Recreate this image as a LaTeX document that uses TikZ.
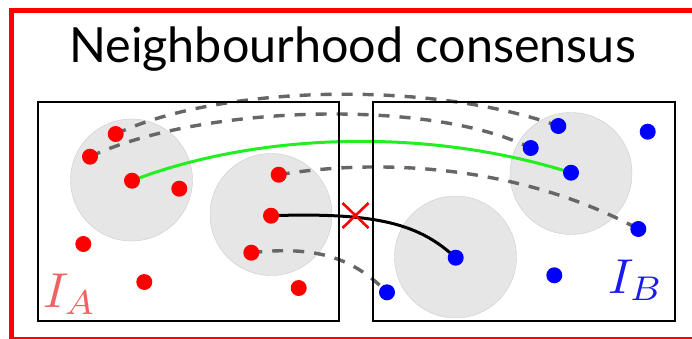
\documentclass[tikz,border=0pt]{standalone}
\usepackage{graphicx}
\usepackage{fontspec}
\setmainfont{Lato}
\usetikzlibrary{backgrounds}
\pgfdeclarelayer{disc}
\pgfdeclarelayer{links}
\pgfsetlayers{disc,links,main}
\definecolor{dotred}{HTML}{FF0000}
\definecolor{dotblue}{HTML}{0000FF}
\definecolor{labred}{HTML}{F06262}
\definecolor{labblue}{HTML}{1A1AEE}
\definecolor{dashgray}{HTML}{666666}
\definecolor{discgray}{HTML}{E6E6E6}
\definecolor{lgreen}{HTML}{22EE22}
\tikzset{
  rdot/.style={circle,fill=dotred,minimum size=16pt,inner sep=0pt},
  bdot/.style={circle,fill=dotblue,minimum size=16pt,inner sep=0pt},
  disc/.style={circle,fill=discgray,draw=black!20,line width=0.4pt,minimum size=122pt,inner sep=0pt},
  imgbox/.style={draw=black,line width=2pt},
  dashlink/.style={draw=dashgray,line width=3.4pt,dash pattern=on 11pt off 10pt},
  goodlink/.style={draw=lgreen,line width=3pt},
  badlink/.style={draw=black,line width=3pt},
}
\begin{document}
\begin{tikzpicture}[x=1pt,y=-1pt]
\useasboundingbox (0,0) rectangle (692,338);
\clip (0,0) rectangle (692,338);
\draw[draw=dotred,line width=5pt] (11,10) rectangle (710,339);
\node[anchor=base,inner sep=0pt,font=\fontsize{48.5}{52}\selectfont] (title) at (352.5,62) {Neighbourhood consensus};
% image boxes
\node[imgbox,minimum width=301pt,minimum height=219pt,inner sep=0pt] (boxA) at (188.5,211.5) {};
\node[imgbox,minimum width=302pt,minimum height=219pt,inner sep=0pt] (boxB) at (524,211.5) {};
% discs
\begin{pgfonlayer}{disc}
\node[disc] (c1) at (131.5,180) {};
\node[disc] (c2) at (271,214.5) {};
\node[disc] (c3) at (455.5,257) {};
\node[disc] (c4) at (571,173.5) {};
\end{pgfonlayer}
% red dots
\node[rdot] (a1) at (115.7,134) {};
\node[rdot] (a2) at (90,156.7) {};
\node[rdot] (a3) at (132,180.7) {};
\node[rdot] (a4) at (179.3,188.7) {};
\node[rdot] (a5) at (83.3,244) {};
\node[rdot] (a6) at (144.3,282) {};
\node[rdot] (a7) at (278.7,174.7) {};
\node[rdot] (a8) at (271,215.7) {};
\node[rdot] (a9) at (251.3,252.7) {};
\node[rdot] (a10) at (298.7,288) {};
% blue dots
\node[bdot] (b1) at (558.3,126) {};
\node[bdot] (b2) at (647.7,131.7) {};
\node[bdot] (b3) at (530.7,148) {};
\node[bdot] (b4) at (571,172.7) {};
\node[bdot] (b5) at (638.3,229) {};
\node[bdot] (b6) at (455.7,257.7) {};
\node[bdot] (b7) at (554.3,275.3) {};
\node[bdot] (b8) at (387,292.3) {};
% links
\begin{pgfonlayer}{links}
\draw[dashlink] (a1.center) .. controls (220,85) and (430,80) .. (b1.center);
\draw[dashlink] (a2.center) .. controls (200,105) and (430,98) .. (b3.center);
\draw[dashlink] (a7.center) .. controls (380,158) and (520,165) .. (b5.center);
\draw[dashlink] (a9.center) .. controls (320,245) and (355,260) .. (b8.center);
\draw[goodlink] (a3.center) .. controls (250,135) and (420,125) .. (b4.center);
\draw[badlink] (a8.center) .. controls (380,212) and (420,225) .. (b6.center);
\end{pgfonlayer}
% cross
\coordinate (x0) at (355.5,215.5);
\draw[dotred,line width=2.6pt] ([shift={(-13,-12.5)}]x0) -- ([shift={(13,12.5)}]x0)
  ([shift={(-13,12.5)}]x0) -- ([shift={(13,-12.5)}]x0);
% labels
\node[anchor=base west,inner sep=0pt,text=labred] (la) at (43,307) {\scalebox{4.9}{$I_A$}};
\node[anchor=base west,inner sep=0pt,text=labblue] (lb) at (608,293) {\scalebox{4.9}{$I_B$}};
\end{tikzpicture}
\end{document}
